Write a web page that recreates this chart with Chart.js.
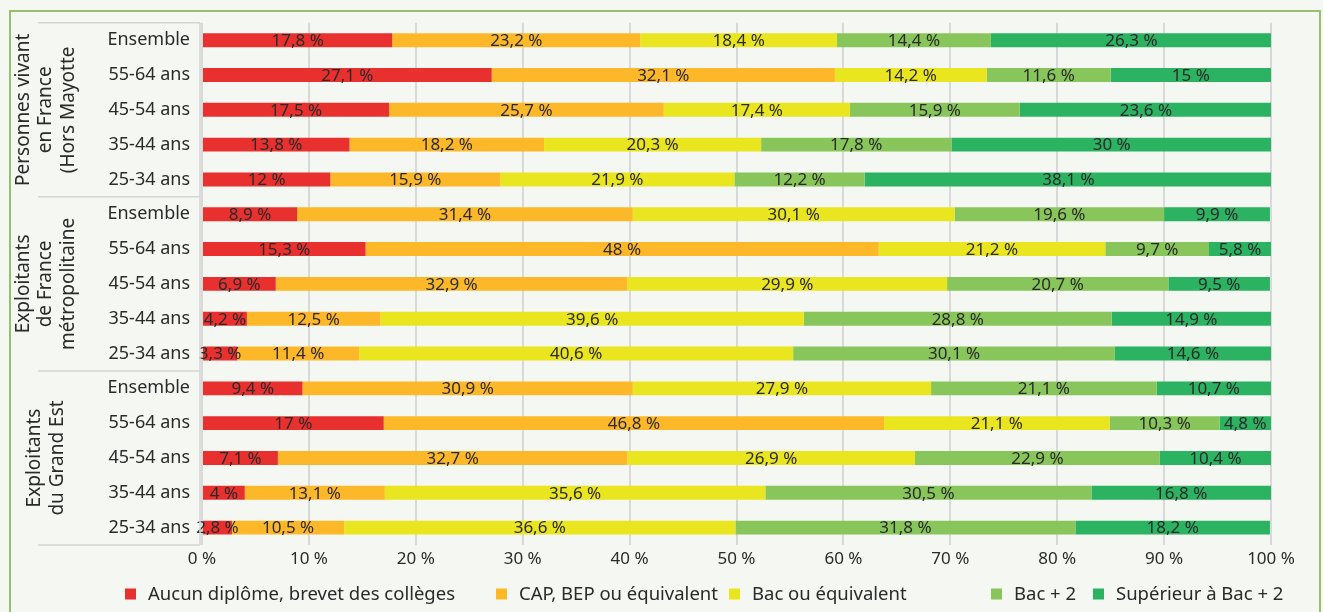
<!DOCTYPE html>
<html>
<head>
<meta charset="utf-8">
<script src="https://cdn.jsdelivr.net/npm/chart.js@4.4.1/dist/chart.umd.min.js"></script>
<style>
  html, body { margin: 0; padding: 0; background: #f5f7f2; }
  #wrap { position: absolute; left: 0; top: 0; width: 1323px; height: 612px; overflow: hidden; }
  #frame { position: absolute; left: 9px; top: 10px; width: 1312px; height: 640px; border: 2px solid #97bf6e; box-sizing: border-box; }
  #chart { position: absolute; left: 0; top: 0; }
</style>
</head>
<body>
<div id="wrap">
  <div id="frame"></div>
  <canvas id="chart" width="1323" height="612"></canvas>
</div>
<script>
const groupNames = [
    ['Personnes vivant', 'en France', '(Hors Mayotte'],
    ['Exploitants', 'de France', 'métropolitaine'],
    ['Exploitants', 'du Grand Est'],
];
const ageLabels = ['Ensemble', '55-64 ans', '45-54 ans', '35-44 ans', '25-34 ans'];

const seriesNames = [
    'Aucun diplôme, brevet des collèges',
    'CAP, BEP ou équivalent',
    'Bac ou équivalent',
    'Bac + 2',
    'Supérieur à Bac + 2',
];
const seriesColors = ['#e8302f', '#fdb829', '#e9e61f', '#88c65c', '#2bb362'];

// rows, top to bottom: 3 groups x 5 age classes
const aucun = [17.8, 27.1, 17.5, 13.8, 12, 8.9, 15.3, 6.9, 4.2, 3.3, 9.4, 17, 7.1, 4, 2.8];
const cap = [23.2, 32.1, 25.7, 18.2, 15.9, 31.4, 48, 32.9, 12.5, 11.4, 30.9, 46.8, 32.7, 13.1, 10.5];
const bac = [18.4, 14.2, 17.4, 20.3, 21.9, 30.1, 21.2, 29.9, 39.6, 40.6, 27.9, 21.1, 26.9, 35.6, 36.6];
const bac2 = [14.4, 11.6, 15.9, 17.8, 12.2, 19.6, 9.7, 20.7, 28.8, 30.1, 21.1, 10.3, 22.9, 30.5, 31.8];
const superieur = [26.3, 15, 23.6, 30, 38.1, 9.9, 5.8, 9.5, 14.9, 14.6, 10.7, 4.8, 10.4, 16.8, 18.2];

const xTicks = [0, 10, 20, 30, 40, 50, 60, 70, 80, 90, 100];

const textColor = '#2a2a2a';
const fontFamily = "'Noto Sans', 'Open Sans', sans-serif";

// left edge of each legend entry (the layout of the original legend is uneven)
const legendX = [125, 496, 729, 991, 1093];

const categories = [];
groupNames.forEach(() => ageLabels.forEach(a => categories.push(a)));

const fmt = v => String(v).replace('.', ',') + ' %';

const allSeries = [aucun, cap, bac, bac2, superieur];

const data = {
    labels: categories,
    datasets: allSeries.map((vals, i) => ({
        label: seriesNames[i],
        data: vals,
        backgroundColor: seriesColors[i],
        borderWidth: 0,
        barPercentage: 0.4,
        categoryPercentage: 1.0,
    })),
};

// values written in the middle of each segment
const segmentLabels = {
    id: 'segmentLabels',
    afterDatasetsDraw(chart) {
        const ctx = chart.ctx;
        ctx.save();
        ctx.font = '17px ' + fontFamily;
        ctx.fillStyle = textColor;
        ctx.textAlign = 'center';
        ctx.textBaseline = 'middle';
        chart.data.datasets.forEach((ds, i) => {
            const meta = chart.getDatasetMeta(i);
            meta.data.forEach((bar, j) => {
                ctx.fillText(fmt(ds.data[j]), (bar.x + bar.base) / 2, bar.y + 1);
            });
        });
        ctx.restore();
    }
};

// second level of the category axis: group names and separators, plus legend
const groupAxis = {
    id: 'groupAxis',
    afterDraw(chart) {
        const ctx = chart.ctx;
        const y = chart.scales.y;
        const area = chart.chartArea;
        const n = ageLabels.length;
        ctx.save();
        ctx.strokeStyle = '#d5d5d5';
        ctx.lineWidth = 1.5;
        const bounds = [area.top];
        for (let g = 1; g < groupNames.length; g++) {
            bounds.push((y.getPixelForValue(g * n - 1) + y.getPixelForValue(g * n)) / 2);
        }
        bounds.push(area.bottom);
        bounds.forEach(b => {
            ctx.beginPath();
            ctx.moveTo(38, b);
            ctx.lineTo(area.left - 2, b);
            ctx.stroke();
        });
        ctx.beginPath();
        ctx.moveTo(area.left - 2, area.top);
        ctx.lineTo(area.left - 2, area.bottom);
        ctx.stroke();

        ctx.font = '19px ' + fontFamily;
        ctx.fillStyle = textColor;
        ctx.textAlign = 'center';
        ctx.textBaseline = 'middle';
        groupNames.forEach((lines, g) => {
            const cy = (y.getPixelForValue(g * n) + y.getPixelForValue(g * n + n - 1)) / 2;
            ctx.save();
            ctx.translate(46, cy);
            ctx.rotate(-Math.PI / 2);
            lines.forEach((line, k) => {
                ctx.fillText(line, 0, (k - (lines.length - 1) / 2) * 22.5);
            });
            ctx.restore();
        });

        // legend
        const ly = 594;
        ctx.font = '18.5px ' + fontFamily;
        ctx.textAlign = 'left';
        chart.data.datasets.forEach((ds, i) => {
            const x0 = legendX[i];
            ctx.fillStyle = ds.backgroundColor;
            ctx.fillRect(x0, ly - 5.5, 11, 11);
            ctx.fillStyle = textColor;
            ctx.fillText(ds.label, x0 + 23, ly + 1);
        });
        ctx.restore();
    }
};

const config = {
    type: 'bar',
    data,
    options: {
        indexAxis: 'y',
        responsive: false,
        animation: false,
        layout: {
            padding: { top: 22, right: 52, left: 0, bottom: 37 }
        },
        scales: {
            x: {
                stacked: true,
                min: 0,
                max: 100,
                afterBuildTicks: scale => {
                    scale.ticks = xTicks.map(v => ({ value: v }));
                },
                afterFit: scale => { scale.height = 30; },
                grid: {
                    color: '#d9d9d9',
                    lineWidth: 2,
                    drawTicks: false,
                },
                border: { display: false },
                ticks: {
                    callback: v => v + ' %',
                    font: { size: 17, family: fontFamily },
                    color: textColor,
                    padding: 4,
                    maxRotation: 0,
                },
            },
            y: {
                stacked: true,
                afterFit: scale => { scale.width = 202; },
                grid: { display: false, drawTicks: false },
                border: { display: false },
                ticks: {
                    font: { size: 18, family: fontFamily },
                    color: textColor,
                    padding: 12,
                    autoSkip: false,
                },
            },
        },
        plugins: {
            legend: { display: false },
            tooltip: { enabled: false },
        },
    },
    plugins: [segmentLabels, groupAxis],
};

const myChart = new Chart(document.getElementById('chart'), config);
</script>
</body>
</html>
